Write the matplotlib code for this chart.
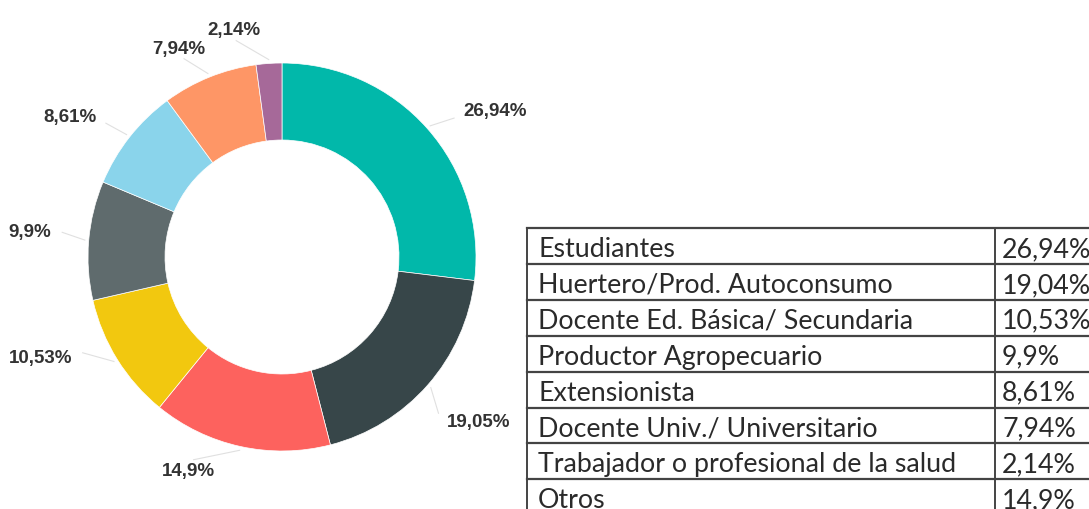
import numpy as np
import matplotlib.pyplot as plt

# donut slices, clockwise from 12 o'clock
donut_values = [26.94, 19.05, 14.9, 10.53, 9.9, 8.61, 7.94, 2.14]
donut_labels = ["26,94%", "19,05%", "14,9%", "10,53%", "9,9%", "8,61%", "7,94%", "2,14%"]
donut_colors = ["#01B8AA", "#374649", "#FD625E", "#F2C80F",
                "#5F6B6D", "#8AD4EB", "#FE9666", "#A66999"]

# table on the right (as typed in the source)
table_labels = [
    "Estudiantes",
    "Huertero/Prod. Autoconsumo",
    "Docente Ed. Básica/ Secundaria",
    "Productor Agropecuario",
    "Extensionista",
    "Docente Univ./ Universitario",
    "Trabajador o profesional de la salud",
    "Otros",
]
table_values = ["26,94%", "19,04%", "10,53%", "9,9%", "8,61%", "7,94%", "2,14%", "14,9%"]

W, H = 1089, 510
fig = plt.figure(figsize=(W / 100, H / 100), dpi=100)
ax = fig.add_axes([0, 0, 1, 1])

# --- donut ---
cx, cy, R = 282, H - 258, 194
wedges, _ = ax.pie(
    donut_values,
    colors=donut_colors,
    startangle=90,
    counterclock=False,
    center=(cx, cy),
    radius=R,
    wedgeprops=dict(width=77, edgecolor="white", linewidth=0.5),
)

# small angle shifts so labels don't crowd (deg)
label_nudge = [-2.6, -3.7, -11.2, -6.2, -1.5, 1.0, 4.3, 8.1]
for w, lab, nudge in zip(wedges, donut_labels, label_nudge):
    mid = np.deg2rad((w.theta1 + w.theta2) / 2)
    ang = mid + np.deg2rad(nudge)
    c = np.cos(ang)
    ax.plot(
        [cx + 1.02 * R * np.cos(mid), cx + 1.14 * R * np.cos(ang)],
        [cy + 1.02 * R * np.sin(mid), cy + 1.14 * R * np.sin(ang)],
        color="#e0e0e0", lw=0.8,
    )
    ha = "left" if c > 0.5 else ("right" if c < -0.5 else "center")
    ax.text(
        cx + 1.2 * R * c, cy + 1.2 * R * np.sin(ang), lab,
        ha=ha, va="center", fontsize=13.5, fontweight="bold",
        color="#333333", family="Liberation Sans",
    )

# --- table ---
tx0, tx1, tx2 = 527, 995, 1100
ty0, row_h = 229, 35.9
n = len(table_labels)
for i in range(n + 1):
    y = H - (ty0 + row_h * i)
    ax.plot([tx0, tx2], [y, y], color="#444444", lw=1.6)
for x in (tx0, tx1):
    ax.plot([x, x], [H - ty0, H - (ty0 + row_h * n)], color="#444444", lw=1.4)
for i, (lab, val) in enumerate(zip(table_labels, table_values)):
    yb = H - (ty0 + row_h * i + 28)
    ax.text(tx0 + 11, yb, lab, ha="left", va="baseline",
            fontsize=19.3, color="#2a2a2a", family="Lato")
    ax.text(tx1 + 7, yb, val, ha="left", va="baseline",
            fontsize=19.3, color="#2a2a2a", family="Lato")

ax.set_xlim(0, W)
ax.set_ylim(0, H)
ax.set_aspect("equal")
ax.axis("off")

fig.savefig("out.png", dpi=100)
